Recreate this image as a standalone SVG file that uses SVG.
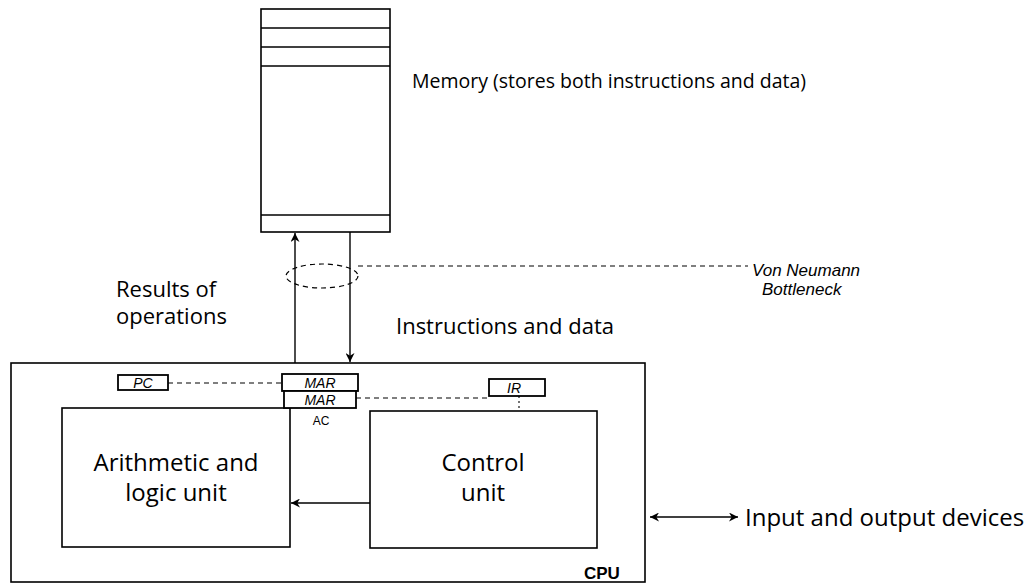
<svg xmlns="http://www.w3.org/2000/svg" width="1030" height="586" viewBox="0 0 1030 586">
<defs>
<marker id="ah" viewBox="0 0 10 10" refX="10" refY="5" markerWidth="9" markerHeight="9" markerUnits="userSpaceOnUse" orient="auto-start-reverse">
<path d="M0,0 L10,5 L0,10 L3,5 Z" fill="#000"/>
</marker>
</defs>
<style>
.box{fill:#fff;stroke:#000;stroke-width:1.6}
.reg{fill:#fff;stroke:#000;stroke-width:1.8}
.ln{fill:none;stroke:#000;stroke-width:1.4}
.dash{fill:none;stroke:#000;stroke-width:1.2;stroke-dasharray:5 4}
.dot{fill:none;stroke:#000;stroke-width:1.1;stroke-dasharray:2 3}
.t{font-family:"Open Sans","Noto Sans",sans-serif;font-size:22px;fill:#000}
.m{font-family:"Open Sans","Noto Sans",sans-serif;font-size:19.5px;fill:#000}
.b{font-family:"Open Sans","Noto Sans",sans-serif;font-size:24px;fill:#000}
.h{font-family:"Liberation Sans",sans-serif;font-style:italic;font-size:17px;fill:#000}
.r{font-family:"Liberation Sans",sans-serif;font-style:italic;font-size:14px;fill:#000}
</style>
<rect width="1030" height="586" fill="#fff"/>
<g id="memory">
<rect class="box" x="261" y="9" width="129" height="223"/>
<line class="ln" x1="261" y1="28" x2="390" y2="28"/>
<line class="ln" x1="261" y1="47" x2="390" y2="47"/>
<line class="ln" x1="261" y1="66" x2="390" y2="66"/>
<line class="ln" x1="261" y1="215" x2="390" y2="215"/>
<text class="m" x="412" y="88">Memory (stores both instructions and data)</text>
</g>
<g id="cpu">
<rect class="box" x="11" y="363" width="634" height="219"/>
<text x="584" y="579" font-family="Liberation Sans,sans-serif" font-weight="bold" font-size="17">CPU</text>
</g>
<g id="alu">
<rect class="box" x="62" y="408" width="228" height="139"/>
<text class="b" x="176" y="471" text-anchor="middle">Arithmetic and</text>
<text class="b" x="176" y="501" text-anchor="middle">logic unit</text>
</g>
<g id="control">
<rect class="box" x="370" y="411" width="227" height="137"/>
<text class="b" x="483" y="471" text-anchor="middle">Control</text>
<text class="b" x="483" y="501" text-anchor="middle">unit</text>
</g>
<g id="pc">
<rect class="reg" x="118" y="375" width="50" height="15"/>
<text class="r" x="143" y="388" text-anchor="middle">PC</text>
</g>
<g id="mar1">
<rect class="reg" x="282" y="374" width="76" height="17"/>
<text class="r" x="320" y="388" text-anchor="middle">MAR</text>
</g>
<g id="mar2">
<rect class="reg" x="284" y="391" width="72" height="17"/>
<text class="r" x="320" y="405" text-anchor="middle">MAR</text>
<text font-family="Liberation Sans,sans-serif" font-size="12" x="321" y="425" text-anchor="middle">AC</text>
</g>
<g id="ir">
<rect class="reg" x="489" y="379" width="56" height="17"/>
<text class="r" x="514" y="393" text-anchor="middle">IR</text>
</g>
<g id="labels">
<text class="t" x="116" y="297">Results of</text>
<text class="t" x="116" y="324">operations</text>
<text class="t" x="396" y="334">Instructions and data</text>
<text class="h" x="752" y="276">Von Neumann</text>
<text class="h" x="762" y="295">Bottleneck</text>
<text class="b" x="745" y="526">Input and output devices</text>
</g>
<g id="connectors">
<line class="ln" x1="295" y1="363" x2="295" y2="233" marker-end="url(#ah)"/>
<line class="ln" x1="350" y1="232" x2="350" y2="362" marker-end="url(#ah)"/>
<ellipse class="dash" cx="322" cy="276" rx="36" ry="12" stroke-dasharray="4 3"/>
<line class="dash" x1="358" y1="266" x2="748" y2="266"/>
<line class="dash" x1="168" y1="383" x2="282" y2="383"/>
<line class="dash" x1="356" y1="398" x2="489" y2="398"/>
<line class="dot" x1="519" y1="396" x2="519" y2="411"/>
<line class="ln" x1="370" y1="503" x2="291" y2="503" marker-end="url(#ah)"/>
<line class="ln" x1="650" y1="517" x2="738" y2="517" marker-start="url(#ah)" marker-end="url(#ah)"/>
</g>
</svg>
